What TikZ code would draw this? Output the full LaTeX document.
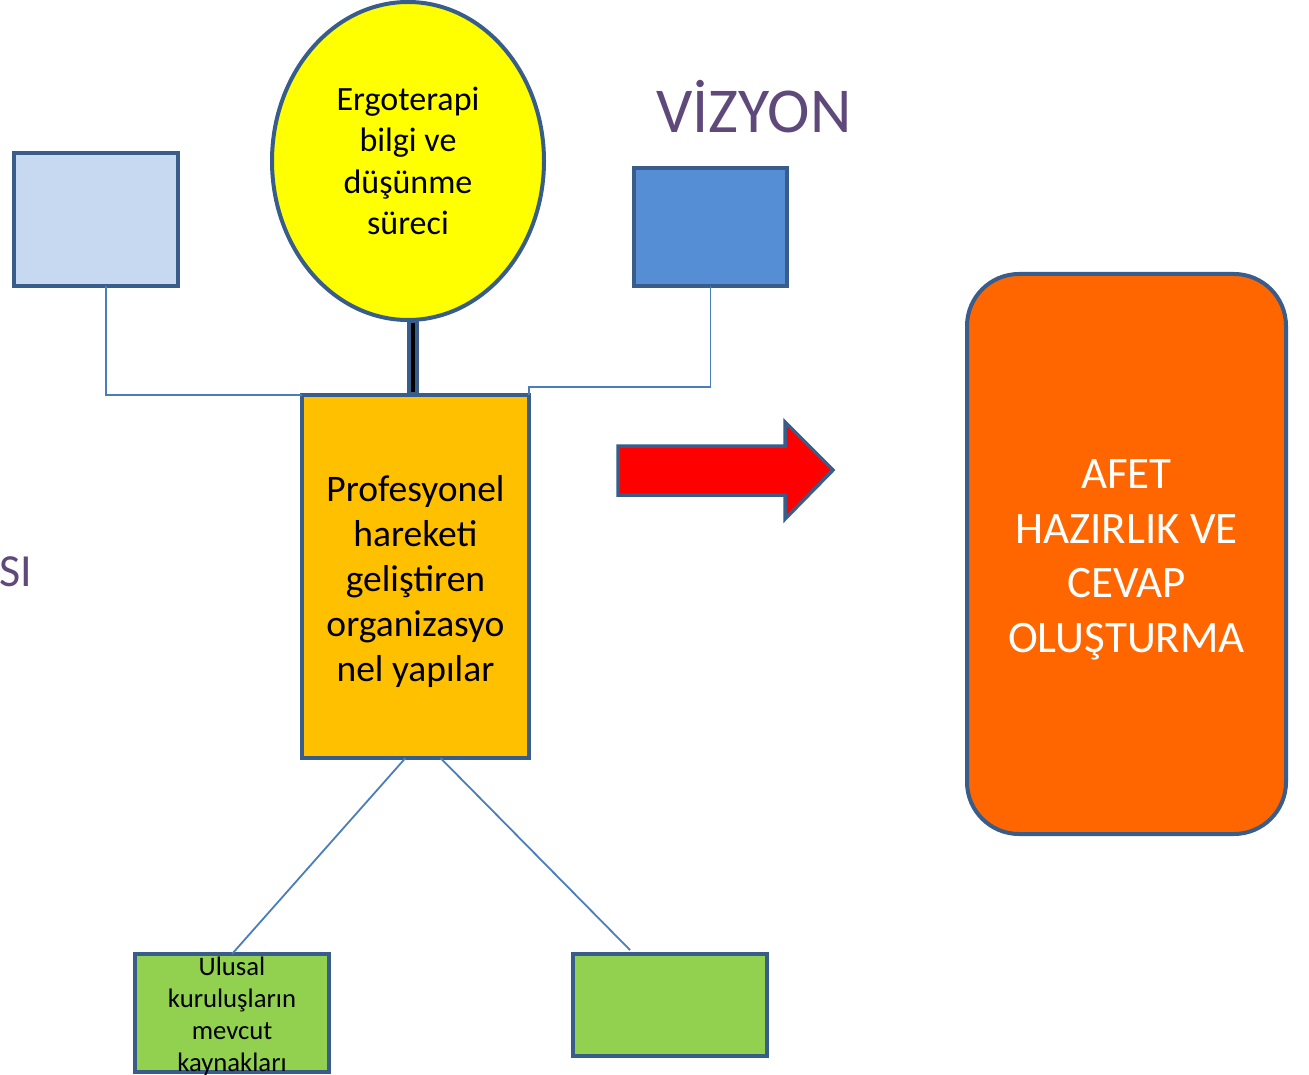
\documentclass[tikz,border=0pt]{standalone}
\usepackage{fontspec}
\setmainfont{Carlito}
\usetikzlibrary{shapes.geometric,calc}
\definecolor{bord}{HTML}{385D8A}
\definecolor{thinl}{HTML}{4A7EBB}
\definecolor{lblue}{HTML}{C6D9F0}
\definecolor{mblue}{HTML}{558ED5}
\definecolor{gold}{HTML}{FFC000}
\definecolor{orng}{HTML}{FF6600}
\definecolor{grn}{HTML}{92D050}
\definecolor{purp}{HTML}{5F497A}
\definecolor{yel}{HTML}{FFFF00}
\definecolor{rd}{HTML}{FF0000}
\tikzset{
  box/.style={draw=bord, line width=4pt, rectangle, inner sep=0pt, outer sep=0pt, align=center},
  thinline/.style={draw=thinl, line width=1.8pt},
}
\begin{document}
\begin{tikzpicture}[x=1pt,y=-1pt]
\useasboundingbox[fill=white] (0,0) rectangle (1309,1075);
% boxes
\node[box, fill=lblue, minimum width=164pt, minimum height=133pt] (lb) at (96,219.5) {};
\node[box, fill=mblue, minimum width=153pt, minimum height=118pt] (bb) at (710.5,227) {};
\node[box, fill=gold, minimum width=227pt, minimum height=363pt] (org) at (415.5,576.5) {};
\node[align=center, font=\fontsize{37.5}{45}\selectfont] (orgt) at (415.5,581.5)
      {Profesyonel\\hareketi\\geliştiren\\organizasyo\\nel yapılar};
\node[draw=bord, line width=4pt, ellipse, fill=yel, minimum width=272pt, minimum height=318pt,
      inner sep=0pt, outer sep=0pt, align=center, font=\fontsize{34}{41.3}\selectfont] (ell) at (408,161)
      {Ergoterapi\\bilgi ve\\düşünme\\süreci};
\node[box, fill=grn, minimum width=194pt, minimum height=118pt] (g1) at (232,1013) {};
\node[align=center, font=\fontsize{26.7}{32}\selectfont] (g1t) at (232,1016.5)
      {Ulusal\\kuruluşların\\mevcut\\kaynakları};
\node[box, fill=grn, minimum width=194pt, minimum height=102pt] (g2) at (670,1005) {};
\node[box, fill=orng, rounded corners=52pt, minimum width=319pt, minimum height=560pt] (af) at (1126.5,554) {};
\node[align=center, text=white, font=\fontsize{45}{54.5}\selectfont] (aft) at (1126.5,560)
      {AFET\\HAZIRLIK VE\\CEVAP\\OLUŞTURMA};
% labels
\node[text=purp, font=\fontsize{64}{70}\selectfont] (viz) at (754,107) {VİZYON};
\node[text=purp, font=\fontsize{46}{50}\selectfont, anchor=east, inner sep=0pt] (si) at (32,572) {SI};
% thick connector
\coordinate (tc1) at ([xshift=-2.5pt]org.north);
\coordinate (tc2) at (tc1 |- ell.south);
\draw[bord, line width=12pt] (tc2) -- (tc1);
\draw[black, line width=4.5pt] ([yshift=-3pt]tc2) -- ([yshift=3pt]tc1);
% thin connectors
\draw[thinline] ([xshift=10pt]lb.south) |- (org.north west);
\draw[thinline] (bb.south) |- ([yshift=8pt]org.north east) -- (org.north east);
\draw[thinline] ([xshift=-10pt]org.south) -- (g1.north);
\draw[thinline] ([xshift=25pt]org.south) -- ([xshift=-40pt,yshift=4pt]g2.north);
% red arrow
\draw[bord, line width=3.5pt, fill=rd, line join=miter]
  (618,446) -- (785,446) -- (785,422) -- (833,470) -- (785,519) -- (785,495) -- (618,495) -- cycle;
\end{tikzpicture}
\end{document}
